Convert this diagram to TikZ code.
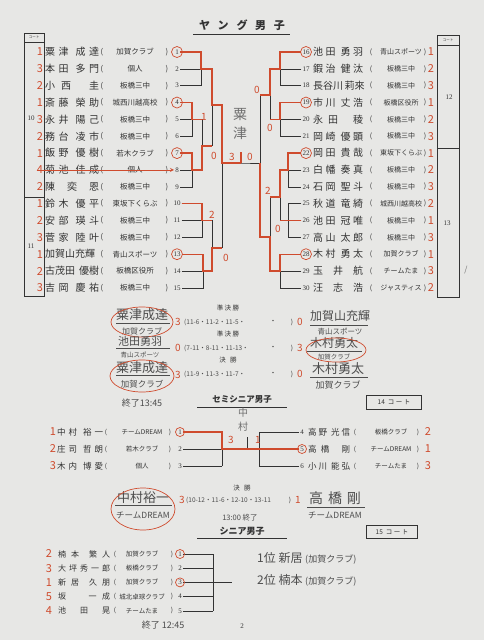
\documentclass[tikz,border=0pt]{standalone}
\usepackage{fontspec}
\setmainfont{Liberation Serif}
\newfontfamily\jp{Noto Sans CJK JP}
\usetikzlibrary{positioning}
\definecolor{paper}{HTML}{E7E7E5}
\definecolor{ink}{HTML}{333333}
\definecolor{pen}{HTML}{CF4B2D}
\definecolor{hand}{HTML}{4D4D4D}
\definecolor{pencil}{HTML}{707070}
\tikzset{
  nm/.style={anchor=west,inner sep=0pt,text=ink,font=\jp\fontsize{#1}{#1}\selectfont},
  nm/.default=10,
  club/.style={inner sep=0pt,text=ink,font=\jp\fontsize{#1}{#1}\selectfont},
  club/.default=7.5,
  num/.style={inner sep=1pt,text=ink,font=\fontsize{7}{7}\selectfont},
  rank/.style={inner sep=0pt,text=pen,font=\jp\fontsize{11}{11}\selectfont},
  score/.style={inner sep=0pt,text=pen,font=\jp\fontsize{10}{10}\selectfont},
  hw/.style={inner sep=0pt,text=hand,font=\jp\fontsize{#1}{#1}\selectfont},
  hw/.default=10,
  hws/.style={anchor=west,inner sep=0pt,text=hand,font=\jp\fontsize{6.5}{7}\selectfont},
  ttl/.style={inner sep=0pt,text=ink,font=\jp\bfseries\fontsize{#1}{#1}\selectfont},
  small/.style={inner sep=0pt,text=ink,font=\jp\fontsize{6.5}{7}\selectfont},
  line/.style={draw=ink,line width=0.55pt},
  win/.style={draw=pen,line width=1.3pt},
  ring/.style={draw=pen,circle,line width=0.7pt,inner sep=0pt,minimum size=#1},
  ring/.default=11pt,
  oval/.style={draw=pen,line width=0.7pt},
  uline/.style={draw=hand,line width=0.5pt},
  court/.style={draw=ink,line width=0.5pt,small,minimum width=55pt,minimum height=14pt},
}
\begin{document}
\begin{tikzpicture}[x=1pt,y=-1pt]
\fill[paper] (0,0) rectangle (484,640);
\useasboundingbox (0,0) rectangle (484,640);

% ヤング男子
\node[ttl=11] (yg) at (242,25) {\makebox[86pt][s]{ヤ ン グ 男 子}};
\draw[line] (193,34) -- (290,34);

% court boxes
\draw[line] (24,33) rectangle (44,296);
\draw[line] (24,42) -- (44,42);
\draw[line] (24,197) -- (44,197);
\node[font=\jp\fontsize{3.5}{4}\selectfont,text=ink] (cl) at (34,37.5) {コート};
\node[num] (c10) at (31,118) {10};
\node[num] (c11) at (31,246) {11};
\draw[line] (437,35) rectangle (459,297);
\draw[line] (437,45) -- (459,45);
\draw[line] (437,148) -- (459,148);
\node[font=\jp\fontsize{3.5}{4}\selectfont,text=ink] (cr) at (448,40) {コート};
\node[num] (c12) at (449,97) {12};
\node[num] (c13) at (447,223) {13};
\node[hw=8,text=pencil] (c1) at (466,270) {/};

% left players
\foreach \i/\rk/\sn/\cl in {
  1/1/粟 津 \ 成 達/加賀クラブ,
  2/3/本 田 \ 多 門/個人,
  3/2/小 西 \ \ 圭/板橋三中,
  4/1/斎 藤 \ 榮 助/城西川越高校,
  5/3/永 井 \ 陽 己/板橋三中,
  6/2/務 台 \ 凌 市/板橋三中,
  7/1/飯 野 \ 優 樹/若木クラブ,
  8/4/菊 池 \ 佳 成/個人,
  9/2/陳 \ 奕 \ 恩/板橋三中,
  10/1/鈴 木 \ 優 平/東坂下くらぶ,
  11/2/安 部 \ 瑛 斗/板橋三中,
  12/3/菅 家 \ 陸 叶/板橋三中,
  13/1/加賀山充輝/青山スポーツ,
  14/2/古茂田 優樹/板橋区役所,
  15/3/吉 岡 \ 慶 祐/板橋三中} {
  \pgfmathsetmacro\yy{52+(\i-1)*16.85}
  \node[rank] (r\i) at (40,\yy) {\rk};
  \node[nm] (m\i) at (45,\yy) {\makebox[54pt][s]{\sn}};
  \node[club] (o\i) at (102,\yy) {(};
  \node[club] (k\i) at (135,\yy) {\cl};
  \node[club] (q\i) at (167,\yy) {)};
  \node[num] (n\i) at (177,\yy) {\i};
}
% right players
\foreach \i/\rk/\sn/\cl in {
  16/1/池 田 \ 勇 羽/青山スポーツ,
  17/2/鍜 治 \ 健 汰/板橋三中,
  18/3/長谷川 莉來/板橋三中,
  19/1/市 川 \ 丈 浩/板橋区役所,
  20/2/永 田 \ \ 稜/板橋三中,
  21/3/岡 崎 \ 優 顕/板橋三中,
  22/1/岡 田 \ 貴 哉/東坂下くらぶ,
  23/2/白 幡 \ 奏 真/板橋三中,
  24/3/石 岡 \ 聖 斗/板橋三中,
  25/2/秋 道 \ 竜 綺/城西川越高校,
  26/1/池 田 \ 冠 唯/板橋三中,
  27/3/高 山 \ 太 郎/板橋三中,
  28/1/木 村 \ 勇 太/加賀クラブ,
  29/3/玉 \ 井 \ 航/チームたま,
  30/2/汪 \ 志 \ 浩/ジャスティス} {
  \pgfmathsetmacro\yy{52+(\i-16)*16.85}
  \node[num] (n\i) at (306,\yy) {\i};
  \node[nm] (m\i) at (313,\yy) {\makebox[50pt][s]{\sn}};
  \node[club=7] (o\i) at (371,\yy) {(};
  \node[club=7] (k\i) at (401,\yy) {\cl};
  \node[club=7] (q\i) at (425,\yy) {)};
  \node[rank] (r\i) at (431,\yy) {\rk};
}
\foreach \i in {1,4,7,13,16,19,22,28} \node[ring] at (n\i) {};
\draw[pen,line width=0.8pt,-stealth] (r8.west) -- (n8.west);

% bracket columns
\coordinate (xa) at (201,0);
\coordinate (xb) at (192,0);
\coordinate (xd) at (202,0);
\coordinate (xe) at (203,0);
\coordinate (x3) at (212,0);
\coordinate (x4) at (222,0);
\coordinate (mid) at (241,0);
\coordinate (xf) at (280,0);
\coordinate (xh) at (288,0);
\coordinate (y2) at (270,0);
\coordinate (y3) at (260,0);
\coordinate (jbc) at (202,146);
\coordinate (jabc) at (212,105);
\coordinate (jde) at (212,248);
\coordinate (jl) at (222,163);
\coordinate (jfg) at (270,95);
\coordinate (jhi) at (280,197);
\coordinate (jhij) at (270,237);
\coordinate (jr) at (260,163);

\foreach \a/\b/\c/\x in {1/2/3/201,4/5/6/192,7/8/9/192,10/11/12/202,13/14/15/203} {
  \coordinate (gx) at (\x,0);
  \draw[line] (n\a.east) -- (n\a.east -| gx) -- (n\c.east -| gx) -- (n\c.east);
  \draw[line] (n\b.east) -- (n\b.east -| gx);
}
\foreach \a/\b/\c/\x in {16/17/18/280,19/20/21/280,22/23/24/288,25/26/27/288,28/29/30/280} {
  \coordinate (gx) at (\x,0);
  \draw[line] (n\a.west) -- (n\a.west -| gx) -- (n\c.west -| gx) -- (n\c.west);
  \draw[line] (n\b.west) -- (n\b.west -| gx);
}
\draw[line] (n2 -| xa) -- (n2 -| x3);
\draw[line] (n5 -| xb) -- (n5 -| xd) -- (n8 -| xd) -- (n8 -| xb);
\draw[line] (jbc) -- (jbc -| x3);
\draw[line] (n2 -| x3) -- (jbc -| x3);
\draw[line] (jabc) -- (jabc -| x4);
\draw[line] (n11 -| xd) -- (n11 -| x3) -- (n14 -| x3) -- (n14 -| xe);
\draw[line] (jde) -- (jde -| x4);
\draw[line] (jabc -| x4) -- (jde -| x4);
\draw[line] (jl) -- (jl -| mid) -- (jr);
\draw[line] (n17 -| xf) -- (n17 -| y2) -- (n20 -| y2) -- (n20 -| xf);
\draw[line] (jfg) -- (jfg -| y3);
\draw[line] (n23 -| xh) -- (n23 -| xf) -- (n26 -| xf) -- (n26 -| xh);
\draw[line] (jhi) -- (jhi -| y2) -- (n29 -| y2) -- (n29 -| xf);
\draw[line] (jhij) -- (jhij -| y3);
\draw[line] (jfg -| y3) -- (jhij -| y3);

% winners
\draw[win] (n1.east) -| (n2 -| xa) -- (n2 -| x3) -- (jabc) -- (jabc -| x4) -- (jl) -- (jl -| mid);
\draw[win] (n4.east) -| (n5 -| xb) -- (n5 -| xd);
\draw[win] (n7.east) -| (n8 -| xb) -- (n8 -| xd) -- (jbc) -- (jbc -| x3);
\draw[win] (n10.east) -| (n11 -| xd) -- (n11 -| x3);
\draw[win] (n13.east) -| (n14 -| xe) -- (n14 -| x3) -- (jde) -- (jde -| x4);
\draw[win] (jl -| mid) -- ++(0,-11);
\draw[win] (n16.west) -| (n17 -| xf) -- (n17 -| y2) -- (jfg) -- (jfg -| y3);
\draw[win] (n19.west) -| (n20 -| xf) -- (n20 -| y2);
\draw[win] (n22.west) -| (n23 -| xh) -- (n23 -| xf) -- (jhi) -- (jhi -| y2);
\draw[win] (n26.west) -- (n26 -| xh) -- (n26 -| xf);
\draw[win] (n28.west) -| (n29 -| xf) -- (n29 -| y2) -- (jhij) -- (jhij -| y3) -- (jr);

% scores on the bracket
\node[score] (s1) at (204,117) {1};
\node[score] (s2) at (214,156) {0};
\node[score] (s3) at (232,157) {3};
\node[score] (s4) at (250,157) {0};
\node[score] (s5) at (212,215) {2};
\node[score] (s6) at (226,258) {0};
\node[score] (s7) at (257,90) {0};
\node[score] (s8) at (270,128) {0};
\node[score] (s9) at (268,191) {2};
\node[score] (s10) at (278,229) {0};
\node[hw=14,text=pencil] (v1) at (240,115) {粟};
\node[hw=14,text=pencil] (v2) at (240,133) {津};

% 準決勝・決勝
\node[small] (sf1) at (228,308) {準 決 勝};
\node[small] (sf2) at (228,334) {準 決 勝};
\node[small] (fn1) at (228,360) {決\ \ \ 勝};

\node[hw=13] (a1) at (142,315) {粟津成達};
\draw[uline] (116,323) -- (170,323);
\node[hw=8] (a1c) at (142,331) {加賀クラブ};
\draw[oval] (142,322) ellipse (31 and 15);
\node[score] (a1s) at (178,322) {3};
\node[hws] (a1g) at (184,322) {(11-6・11-2・11-5・};
\node[small] (a1d) at (273,322) {・};
\node[small] (a1p) at (292,322) {)};
\node[score] (b1s) at (300,322) {0};
\node[hw=12] (b1) at (340,316) {加賀山充輝};
\draw[uline] (310,325) -- (368,325);
\node[hw=7.5] (b1c) at (340,332) {青山スポーツ};

\node[hw=11] (a2) at (140,341) {池田勇羽};
\draw[uline] (116,348) -- (170,348);
\node[hw=6.5] (a2c) at (140,355) {青山スポーツ};
\node[score] (a2s) at (178,348) {0};
\node[hws] (a2g) at (184,348) {(7-11・8-11・11-13・};
\node[small] (a2d) at (273,348) {・};
\node[small] (a2p) at (292,348) {)};
\node[score] (b2s) at (300,348) {3};
\node[hw=12] (b2) at (334,343) {木村勇太};
\draw[uline] (307,351) -- (362,351);
\node[hw=6.5] (b2c) at (334,357) {加賀クラブ};
\draw[oval] (336,350) ellipse (30 and 12);

\node[hw=13] (a3) at (142,368) {粟津成達};
\draw[uline] (116,375) -- (170,375);
\node[hw=8.5] (a3c) at (142,384) {加賀クラブ};
\draw[oval] (142,376) ellipse (32 and 16);
\node[score] (a3s) at (178,375) {3};
\node[hws] (a3g) at (184,374) {(11-9・11-3・11-7・};
\node[small] (a3d) at (273,374) {・};
\node[small] (a3p) at (292,374) {)};
\node[score] (b3s) at (300,374) {0};
\node[hw=13] (b3) at (338,369) {木村勇太};
\draw[uline] (310,377) -- (368,377);
\node[hw=9] (b3c) at (338,385) {加賀クラブ};

% セミシニア男子
\node[hw=9] (e1) at (142,403) {終了13:45};
\node[ttl=8.5] (sm) at (242,399) {セミシニア男子};
\draw[line] (197,407) -- (287,407);
\node[court] (ct14) at (394,402) {14\ \ コ ー ト};
\node[hw=10,text=pencil] (v3) at (243,413) {中};
\node[hw=10,text=pencil] (v4) at (243,427) {村};

\foreach \i/\rk/\sn/\cl in {
  1/1/中 村 \ 裕 一/チームDREAM,
  2/2/庄 司 \ 哲 朗/若木クラブ,
  3/3/木 内 \ 博 愛/個人} {
  \pgfmathsetmacro\yy{432+(\i-1)*17}
  \node[rank] (pr\i) at (53,\yy) {\rk};
  \node[nm=8.5] (pm\i) at (57,\yy) {\makebox[46pt][s]{\sn}};
  \node[club=6.5] (po\i) at (106,\yy) {(};
  \node[club=6.5] (pk\i) at (142,\yy) {\cl};
  \node[club=6.5] (pq\i) at (170,\yy) {)};
  \node[num] (p\i) at (180,\yy) {\i};
}
\foreach \i/\rk/\sn/\cl in {
  4/2/高 野 \ 光 信/板橋クラブ,
  5/1/高 橋 \ \ 剛/チームDREAM,
  6/3/小 川 \ 能 弘/チームたま} {
  \pgfmathsetmacro\yy{432+(\i-4)*17}
  \node[num] (p\i) at (302,\yy) {\i};
  \node[nm=8.5] (pm\i) at (308,\yy) {\makebox[42pt][s]{\sn}};
  \node[club=6.5] (po\i) at (355,\yy) {(};
  \node[club=6.5] (pk\i) at (391,\yy) {\cl};
  \node[club=6.5] (pq\i) at (418,\yy) {)};
  \node[rank] (pr\i) at (428,\yy) {\rk};
}
\coordinate (sl) at (222,0);
\coordinate (sr) at (259,0);
\coordinate (sx) at (247,0);
\foreach \i in {1,2,3} \draw[line] (p\i.east) -- (p\i -| sl);
\foreach \i in {4,5,6} \draw[line] (p\i.west) -- (p\i -| sr);
\draw[line] (p1 -| sl) -- (p3 -| sl);
\draw[line] (p4 -| sr) -- (p6 -| sr);
\draw[line] (p2 -| sl) -- (p5 -| sr);
\draw[line] (p2 -| sx) -- ++(0,-12);
\draw[win] (p1.east) -| (p2 -| sl) -- (p2 -| sx);
\draw[win] (p5.west) -- (p5 -| sx);
\foreach \i in {1,5} \node[ring=9pt] at (p\i) {};
\node[score] (u1) at (231,440) {3};
\node[score] (u2) at (258,440) {1};

\node[small] (fn2) at (242,488) {決\ \ \ 勝};
\node[hw=13] (d1) at (143,498) {中村裕一};
\draw[uline] (115,505) -- (172,505);
\node[hw=8.5] (d1c) at (143,515) {チームDREAM};
\draw[oval] (143,509) ellipse (32 and 21);
\node[score] (d1s) at (182,500) {3};
\node[hws] (d1g) at (186,500) {(10-12・11-6・12-10・13-11};
\node[small] (d1p) at (290,500) {)};
\node[score] (d2s) at (298,500) {1};
\node[hw=14] (d2) at (335,498) {\makebox[52pt][s]{高 橋 剛}};
\draw[uline] (307,507) -- (365,507);
\node[hw=8.5] (d2c) at (335,515) {チームDREAM};
\node[hw=7.5] (e2) at (240,518) {13:00 終了};

% シニア男子
\node[ttl=9] (sn) at (242,531) {シニア男子};
\draw[line] (197,538) -- (287,538);
\node[court,minimum width=51pt,minimum height=13pt] (ct15) at (392,532) {15\ \ コ ー ト};
\foreach \i/\rk/\sn/\cl in {
  1/2/楠 本 \ 繁 人/加賀クラブ,
  2/3/大 坪 秀 一 郎/板橋クラブ,
  3/1/新 居 \ 久 朋/加賀クラブ,
  4/5/坂 \ \ \ 一 成/城北卓球クラブ,
  5/4/池 \ 田 \ 晃/チームたま} {
  \pgfmathsetmacro\yy{554+(\i-1)*14.2}
  \node[rank] (tr\i) at (49,\yy) {\rk};
  \node[nm=8] (tm\i) at (58,\yy) {\makebox[52pt][s]{\sn}};
  \node[club=6.5] (to\i) at (115,\yy) {(};
  \node[club=6.5] (tk\i) at (142,\yy) {\cl};
  \node[club=6.5] (tq\i) at (172,\yy) {)};
  \node[num] (t\i) at (180,\yy) {\i};
}
\coordinate (tx) at (213,0);
\foreach \i in {1,...,5} \draw[line] (t\i.east) -- (t\i -| tx);
\draw[line] (t1 -| tx) -- (t5 -| tx);
\draw[line] (t3 -| tx) -- ++(19,0);
\foreach \i in {1,3} \node[ring=9pt] at (t\i) {};
\node[hw=12,anchor=west] (w1) at (257,558) {1位\ 新居\ {\fontsize{9}{9}\selectfont(加賀クラブ)}};
\node[hw=12,anchor=west] (w2) at (257,580) {2位\ 楠本\ {\fontsize{9}{9}\selectfont(加賀クラブ)}};
\node[hw=9] (e3) at (163,625) {終了 12:45};
\node[num] (pg) at (242,626) {2};
\end{tikzpicture}
\end{document}
